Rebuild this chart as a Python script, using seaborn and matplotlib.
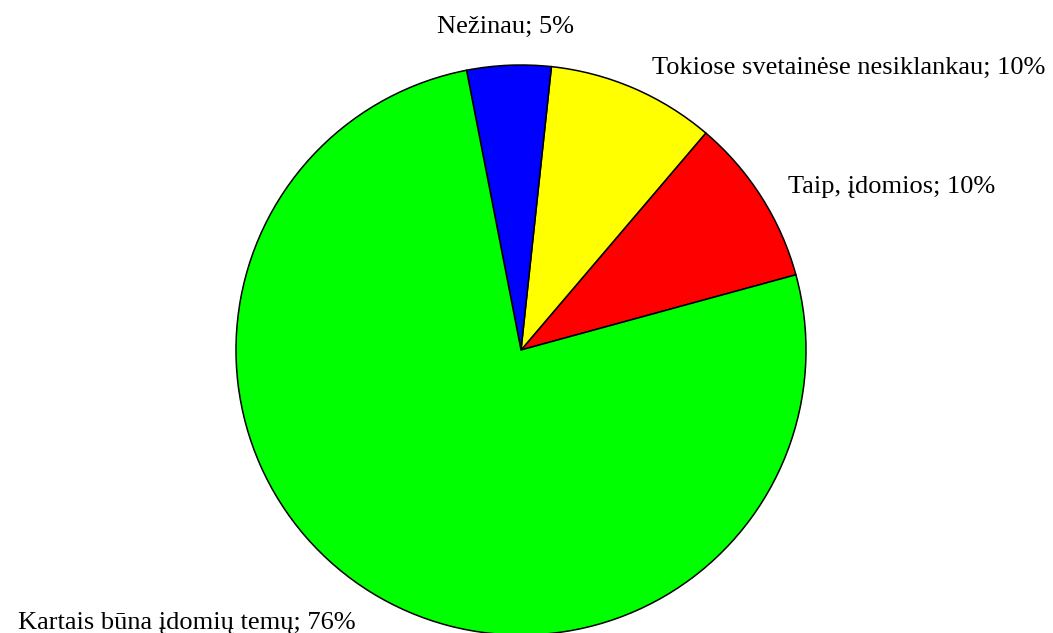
import matplotlib
matplotlib.use("Agg")
import matplotlib.pyplot as plt
import seaborn as sns

# data (answers out of 21 respondents)
categories = ["Taip, įdomios", "Tokiose svetainėse nesiklankau", "Nežinau", "Kartais būna įdomių temų"]
counts = [2, 2, 1, 16]
pct_labels = ["10%", "10%", "5%", "76%"]
colors = ["#FF0000", "#FFFF00", "#0000FF", "#00FF00"]

sns.set_style("white")
plt.rcParams["font.family"] = ["Liberation Serif", "DejaVu Serif"]

fig = plt.figure(figsize=(10.53, 6.33), dpi=100)
ax = fig.add_axes([236 / 1053, -2 / 633, 570 / 1053, 570 / 633])

labels = [f"{c}; {p}" for c, p in zip(categories, pct_labels)]
wedges, texts = ax.pie(
    counts, labels=labels, colors=colors, startangle=15.3, counterclock=True,
    wedgeprops=dict(edgecolor="black", linewidth=1.1), radius=1,
    textprops=dict(fontsize=19, color="black"),
)
ax.set_xlim(-1, 1)
ax.set_ylim(-1, 1)
ax.set_aspect("equal")
for w in wedges:
    w.set_clip_on(False)

# label placement like the original
label_pos = [(0.937, 0.572, "left"), (0.460, 0.988, "left"),
             (-0.056, 1.134, "center"), (-0.582, -0.957, "right")]
for t, (x, y, ha) in zip(texts, label_pos):
    t.set_position((x, y))
    t.set_ha(ha)
    t.set_va("center")

fig.savefig("out.png", dpi=100)
